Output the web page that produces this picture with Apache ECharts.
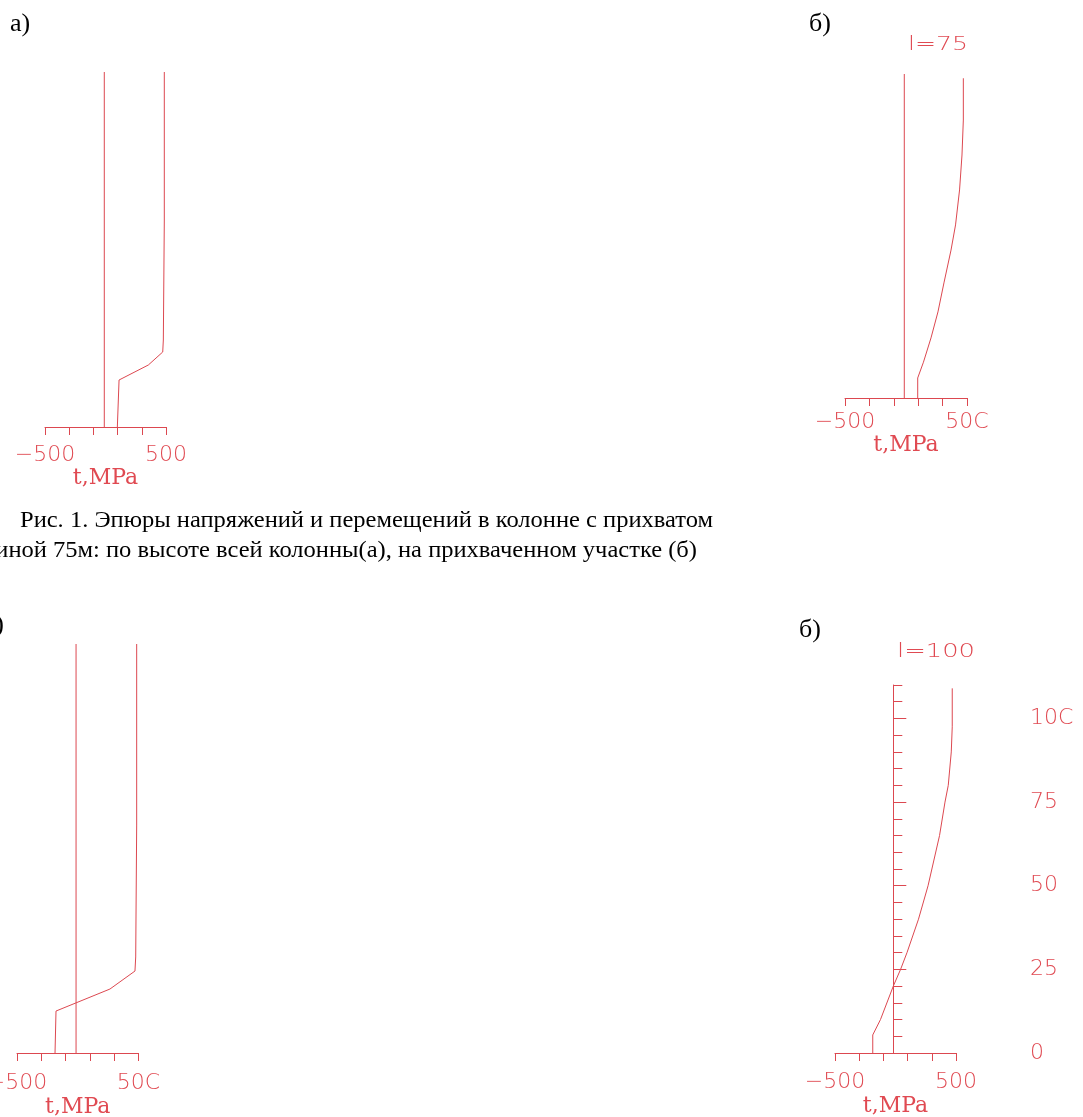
<!DOCTYPE html>
<html>
<head>
<meta charset="utf-8">
<script src="https://cdn.jsdelivr.net/npm/echarts/dist/echarts.min.js"></script>
<style>
    html, body { margin: 0; padding: 0; background: #fff; }
    #main { width: 1083px; height: 1117px; }
</style>
</head>
<body>
<div id="main"></div>
<script type="text/javascript">
    // оси напряжений, общие для всех панелей
    var xTicks = [-500, -300, -100, 100, 300, 500];
    var xLabelValues = [-500, 500];
    var xLabelsA = ['−500', '500'];
    var xLabelsB = ['−500', '50C'];
    var xLabelsC = ['−500', '50C'];
    var xLabelsD = ['−500', '500'];
    var yLabelValuesD = [0, 25, 50, 75, 100];
    var yLabelsD = ['0', '25', '50', '75', '10C'];

    // а) l=75, вся колонна
    var heightA = [355, 206, 204, 87, 75, 62, 47, 0];
    var stressA = [486, 486, 478, 478, 473, 354, 112, 98];
    var columnA = -10;
    var topA = 355;

    // б) l=75, прихваченный участок
    var heightB = [75, 65.2, 57, 48.8, 40.6, 34.7, 27, 20.2, 14.1, 8.4, 4.7, 0];
    var stressB = [470, 470, 459, 439, 406, 369, 311, 262, 205, 143, 96, 96];
    var columnB = -14;
    var topB = 76;

    // а) l=100, вся колонна
    var heightC = [500, 278.7, 276.3, 117.4, 100.2, 78.2, 51.3, 0];
    var stressC = [485, 485, 477, 477, 471, 265, -179, -187];
    var columnC = -14;
    var topC = 500;

    // б) l=100, прихваченный участок
    var heightD = [109, 97.5, 90, 80, 75, 65, 50, 40, 30, 25, 20, 10, 5.4, 0];
    var stressD = [469, 469, 461, 436, 409, 364, 269, 190, 95, 42, -18, -124, -188, -188];
    var topD = 110;

    var caption1 = 'Рис. 1. Эпюры напряжений и перемещений в колонне с прихватом';
    var caption2 = 'длиной 75м: по высоте всей колонны(а), на прихваченном участке (б)';

    var lineRed = '#dc4850';
    var textRed = '#e04a52';
    var plotFont = '"DejaVu Sans"';
    var serifFont = '"Liberation Serif"';

    function pairs(xs, ys) {
        var out = [];
        for (var i = 0; i < xs.length; i++) out.push([xs[i], ys[i]]);
        return out;
    }

    //подгонка ширины текста
    var measureCtx = document.createElement('canvas').getContext('2d');
    function fitScale(text, font, width) {
        measureCtx.font = font;
        return width / measureCtx.measureText(text).width;
    }

    function xAxisFor(gridIndex, labels, labelMargin, nameGap) {
        return {
            gridIndex: gridIndex,
            type: 'value',
            min: -500,
            max: 500,
            axisLine: { show: true, onZero: false, lineStyle: { color: lineRed, width: 1 } },
            axisTick: { show: true, customValues: xTicks, length: 8, lineStyle: { color: lineRed, width: 1 } },
            axisLabel: {
                customValues: xLabelValues,
                formatter: function (v) { return labels[xLabelValues.indexOf(v)] || ''; },
                color: textRed, fontFamily: plotFont, fontSize: 22, fontWeight: 300,
                margin: labelMargin, verticalAlign: 'middle'
            },
            splitLine: { show: false },
            name: 't,MPa',
            nameLocation: 'middle',
            nameGap: nameGap,
            nameTextStyle: { color: textRed, fontFamily: '"DejaVu Serif"', fontSize: 22, verticalAlign: 'middle' }
        };
    }

    function hiddenY(gridIndex, top) {
        return { gridIndex: gridIndex, type: 'value', min: 0, max: top, show: false };
    }

    function curve(xi, yi, data) {
        return {
            type: 'line', xAxisIndex: xi, yAxisIndex: yi, data: data,
            showSymbol: false, symbol: 'none', silent: true,
            lineStyle: { color: lineRed, width: 1 }
        };
    }

    var smallFont = '300 20px ' + plotFont;
    var capFont = '24px ' + serifFont;
    var capScale = fitScale(caption1, capFont, 693);
    var tagFont = '26px ' + serifFont;

    var myChart = echarts.init(document.getElementById('main'), null, { renderer: 'canvas' });
    var option = {
        backgroundColor: '#ffffff',
        animation: false,
        grid: [
            { left: 45, top: 72, width: 121, height: 355, containLabel: false, outerBoundsMode: 'none' },
            { left: 845, top: 74, width: 122, height: 324, containLabel: false, outerBoundsMode: 'none' },
            { left: 17, top: 644, width: 121.5, height: 409, containLabel: false, outerBoundsMode: 'none' },
            { left: 835, top: 685, width: 121, height: 368, containLabel: false, outerBoundsMode: 'none' }
        ],
        xAxis: [
            xAxisFor(0, xLabelsA, 28, 49),
            xAxisFor(1, xLabelsB, 24, 43),
            xAxisFor(2, xLabelsC, 30, 54),
            xAxisFor(3, xLabelsD, 29, 53)
        ],
        yAxis: [
            hiddenY(0, topA),
            hiddenY(1, topB),
            hiddenY(2, topC),
            // ось высоты на панели б) l=100
            {
                gridIndex: 3, type: 'value', min: 0, max: topD, interval: 5,
                position: 'left', offset: -58.3,
                axisLine: { show: true, onZero: false, lineStyle: { color: lineRed, width: 1 } },
                axisTick: { show: true, inside: true, length: 9, lineStyle: { color: lineRed } },
                axisLabel: { show: false },
                splitLine: { show: false }
            },
            {
                gridIndex: 3, type: 'value', min: 0, max: topD,
                position: 'left', offset: -58.3,
                axisLine: { show: false, onZero: false },
                axisTick: { show: true, inside: true, length: 13, customValues: yLabelValuesD, lineStyle: { color: lineRed } },
                axisLabel: { show: false },
                splitLine: { show: false }
            },
            {
                gridIndex: 3, type: 'value', min: 0, max: topD,
                position: 'right', offset: 66,
                axisLine: { show: false, onZero: false },
                axisTick: { show: false },
                axisLabel: {
                    customValues: yLabelValuesD,
                    formatter: function (v) { return yLabelsD[yLabelValuesD.indexOf(v)] || ''; },
                    color: textRed, fontFamily: plotFont, fontSize: 22, fontWeight: 300,
                    margin: 8, align: 'left'
                },
                splitLine: { show: false }
            }
        ],
        series: [
            curve(0, 0, [[columnA, 0], [columnA, topA]]),
            curve(0, 0, pairs(stressA, heightA)),
            curve(1, 1, [[columnB, 0], [columnB, topB]]),
            curve(1, 1, pairs(stressB, heightB)),
            curve(2, 2, [[columnC, 0], [columnC, topC]]),
            curve(2, 2, pairs(stressC, heightC)),
            curve(3, 3, pairs(stressD, heightD))
        ],
        graphic: [
            { type: 'text', x: 10, y: 24, style: { text: 'а)', font: tagFont, fill: '#000', verticalAlign: 'middle' } },
            { type: 'text', x: 809, y: 24, style: { text: 'б)', font: tagFont, fill: '#000', verticalAlign: 'middle' } },
            { type: 'text', x: 4, y: 625, style: { text: 'а)', font: tagFont, fill: '#000', align: 'right', verticalAlign: 'middle' } },
            { type: 'text', x: 799, y: 630, style: { text: 'б)', font: tagFont, fill: '#000', verticalAlign: 'middle' } },
            { type: 'text', x: 938, y: 45, scaleX: fitScale('l=75', smallFont, 60),
              style: { text: 'l=75', font: smallFont, fill: textRed, align: 'center', verticalAlign: 'middle' } },
            { type: 'text', x: 936, y: 652, scaleX: fitScale('l=100', smallFont, 78),
              style: { text: 'l=100', font: smallFont, fill: textRed, align: 'center', verticalAlign: 'middle' } },
            { type: 'text', x: 20, y: 521, scaleX: capScale,
              style: { text: caption1, font: capFont, fill: '#000', align: 'left', verticalAlign: 'middle' } },
            { type: 'text', x: 697, y: 551, scaleX: capScale,
              style: { text: caption2, font: capFont, fill: '#000', align: 'right', verticalAlign: 'middle' } }
        ]
    };
    myChart.setOption(option);
</script>
</body>
</html>
